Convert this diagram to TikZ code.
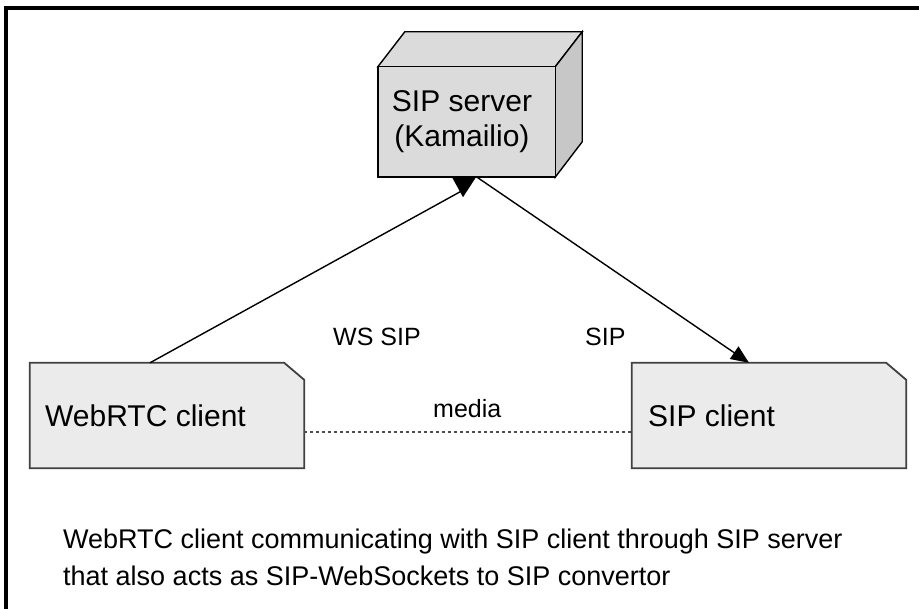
\documentclass[tikz,border=0pt]{standalone}
\usepackage{fontspec}
\setmainfont{Liberation Sans}
\usetikzlibrary{arrows.meta}
\begin{document}
\begin{tikzpicture}[x=1pt,y=-1pt,
  clientbox/.style={draw=none,minimum width=274pt,minimum height=105pt,inner sep=0pt},
  clientline/.style={draw=black!75,line width=1.8pt,fill=black!8,line join=miter},
  boxtext/.style={font=\fontsize{30}{34}\selectfont,anchor=base west,inner sep=0pt},
  srvtext/.style={font=\fontsize{30}{34}\selectfont,anchor=base,inner sep=0pt},
  lbl/.style={font=\fontsize{25}{28}\selectfont,anchor=base west,inner sep=0pt},
  captext/.style={font=\fontsize{27}{37}\selectfont,anchor=base west,inner sep=0pt},
  conn/.style={line width=1.4pt,black},
  cubeline/.style={draw=black,line width=1.4pt,line join=miter}]
\useasboundingbox (0,0) rectangle (919,609);
% frame
\draw[line width=3.5pt] (6,615) -- (6,8) -- (925,8);
% server cube
\node[draw=none,minimum width=177pt,minimum height=110pt,inner sep=0pt] (server) at (466.5,122) {};
\draw[cubeline,fill=black!14] (server.north west) -- ++(27,-35) -- ++(177,0) -- ([xshift=27pt,yshift=35pt]server.north east) -- (server.north east) -- cycle;
\draw[cubeline,fill=black!22] (server.north east) -- ++(27,-35) -- ++(0,110) -- (server.south east) -- cycle;
\draw[cubeline,fill=black!14] (server.south west) rectangle (server.north east);
\node[srvtext] (srv1) at (462,112) {SIP server};
\node[srvtext] (srv2) at (462,147) {(Kamailio)};
% client boxes
\node[clientbox] (web) at (167,415.5) {};
\draw[clientline] (web.south west) -- (web.north west) -- ([xshift=-20pt]web.north east) -- ([yshift=-17pt]web.north east) -- (web.south east) -- cycle;
\node[boxtext] (webt) at (45,427) {WebRTC client};
\node[clientbox] (sipc) at (769,415.5) {};
\draw[clientline] (sipc.south west) -- (sipc.north west) -- ([xshift=-20pt]sipc.north east) -- ([yshift=-17pt]sipc.north east) -- (sipc.south east) -- cycle;
\node[boxtext] (sipt) at (648,427) {SIP client};
% connectors
\coordinate (wtop) at ([xshift=-17pt]web.north);
\coordinate (sbl) at ([xshift=-3.5pt,yshift=-13pt]server.south);
\coordinate (sbr) at ([xshift=10.5pt]server.south);
\coordinate (ctop) at ([xshift=-20pt]sipc.north);
\draw[conn] (wtop) -- (sbl);
\fill ([xshift=-14.5pt]server.south) -- ([xshift=9.5pt]server.south) -- ([xshift=-3.5pt,yshift=-20pt]server.south) -- cycle;
\draw[conn,-{Triangle[length=18pt,width=15pt]}] (sbr) -- (ctop);
\draw[line width=1.4pt,black!70,dash pattern=on 3pt off 3pt] (web.east |- 0,432) -- (sipc.west |- 0,432);
% labels
\node[lbl] (wssip) at (333,346) {WS SIP};
\node[lbl] (sip) at (585,346) {SIP};
\node[lbl] (media) at (433,418) {media};
% caption
\node[captext] (cap1) at (63,548) {WebRTC client communicating with SIP client through SIP server};
\node[captext] (cap2) at (63,585) {that also acts as SIP-WebSockets to SIP convertor};
\end{tikzpicture}
\end{document}
